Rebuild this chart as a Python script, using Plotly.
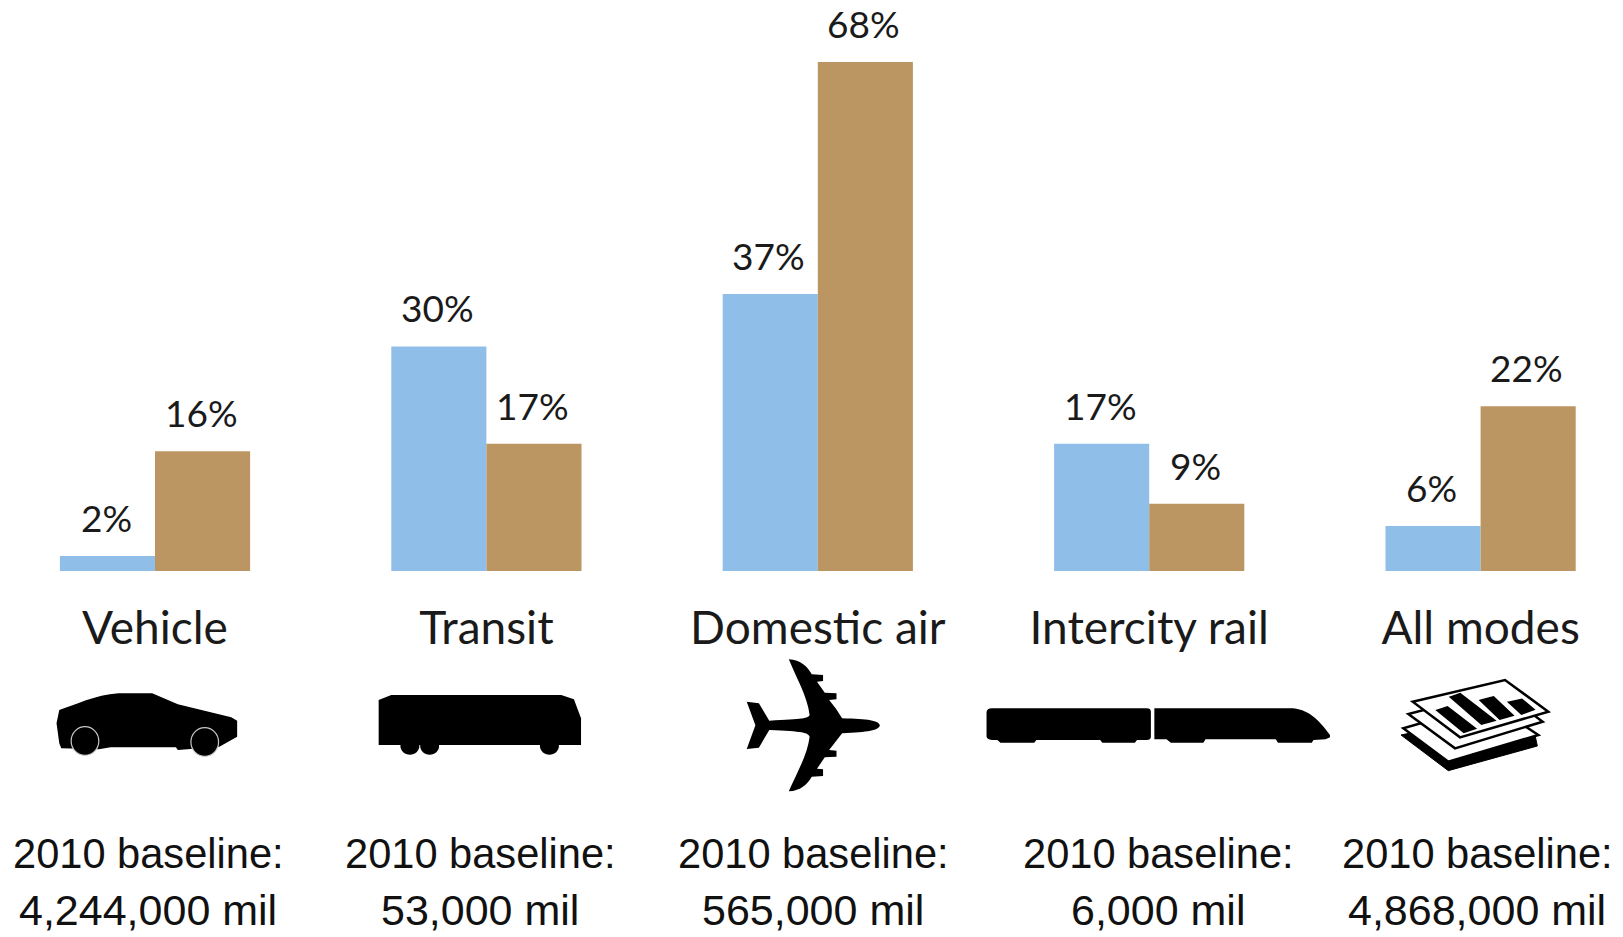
import re
import plotly.graph_objects as go

W, H = 1623, 937
BASE_Y = 571

categories = ["Vehicle", "Transit", "Domestic air", "Intercity rail", "All modes"]
series_blue = [2, 30, 37, 17, 6]
series_brown = [16, 17, 68, 9, 22]
baseline_line1 = ["2010 baseline:"] * 5
baseline_line2 = ["4,244,000 mil", "53,000 mil", "565,000 mil", "6,000 mil", "4,868,000 mil"]

BLUE = "#8FBEE8"
BROWN = "#BC9662"
BAR_FONT = "Lato"
BASE_FONT = "Liberation Sans"
baseline_px = [148, 480, 813, 1158, 1477]

fig = go.Figure()
fig.add_bar(x=categories, y=series_blue, marker_color=BLUE, marker_line_width=0, name="blue", hoverinfo="skip")
fig.add_bar(x=categories, y=series_brown, marker_color=BROWN, marker_line_width=0, name="brown", hoverinfo="skip")

ann = []
for cat, a, b in zip(categories, series_blue, series_brown):
    ann.append(dict(x=cat, y=a, xref="x", yref="y", text=f"{a}%", showarrow=False, xshift=-49,
                    yanchor="bottom", yshift=14, font=dict(family=BAR_FONT, size=37, color="#1a1a1a")))
    ann.append(dict(x=cat, y=b, xref="x", yref="y", text=f"{b}%", showarrow=False, xshift=46,
                    yanchor="bottom", yshift=14, font=dict(family=BAR_FONT, size=37, color="#1a1a1a")))
for px, l1, l2 in zip(baseline_px, baseline_line1, baseline_line2):
    for text, cy, size in ((l1, 853, 41.6), (l2, 910, 43)):
        ann.append(dict(x=px / W, y=1 - cy / H, xref="paper", yref="paper", text=text, showarrow=False,
                        xanchor="center", yanchor="middle",
                        font=dict(family=BASE_FONT, size=size, color="#111111")))


def P(d, ox, oy, sx, sy):
    """Map an icon outline written in crop pixels to paper fractions."""
    out, is_x = [], True
    for tok in re.findall(r"[MLCQZ]|-?\d+\.?\d*", d):
        if tok in "MLCQZ":
            out.append(tok)
        elif is_x:
            out.append(f"{(ox + float(tok) / sx) / W:.5f}")
            is_x = False
        else:
            out.append(f"{1 - (oy + float(tok) / sy) / H:.5f}")
            is_x = True
    return " ".join(out)


def circle(cx, cy, rx, ry):
    k = 0.5523
    return (f"M {cx-rx} {cy} C {cx-rx} {cy-k*ry} {cx-k*rx} {cy-ry} {cx} {cy-ry} "
            f"C {cx+k*rx} {cy-ry} {cx+rx} {cy-k*ry} {cx+rx} {cy} "
            f"C {cx+rx} {cy+k*ry} {cx+k*rx} {cy+ry} {cx} {cy+ry} "
            f"C {cx-k*rx} {cy+ry} {cx-rx} {cy+k*ry} {cx-rx} {cy} Z")


shapes = []
def icon(d, ox, oy, sx, sy, fill="black", line=None, lw=0):
    shapes.append(dict(type="path", xref="paper", yref="paper", path=P(d, ox, oy, sx, sy),
                       fillcolor=fill, line=dict(color=line or fill, width=lw), layer="above"))

# car and bus (crop 1)
c1 = (0, 640, 2.53, 3)
icon("M 143 250 L 150 210 C 190 195 240 165 300 160 L 385 160 L 450 193 L 585 232 L 600 242 L 600 290 "
     "L 555 320 L 450 330 L 445 322 L 280 322 L 250 328 L 155 325 L 150 310 Z", *c1)
icon(circle(215, 303, 35, 43), *c1, line="#c8c8c8", lw=1.2)
icon(circle(518, 306, 35, 43), *c1, line="#c8c8c8", lw=1.2)
icon("M 958 180 L 990 165 L 1420 165 L 1452 178 L 1470 235 L 1470 315 L 958 315 Z", *c1)
for cx in (1037, 1087, 1390):
    icon(circle(cx, 318, 24, 26), *c1)

# plane and train (crop 2)
c2 = (660, 640, 2.306, 3)
icon("M 507 256 C 505 242 480 237 420 235 L 405 205 L 390 180 L 407 178 L 407 160 L 380 158 L 362 125 "
     "L 376 123 L 376 105 L 350 103 C 340 80 325 60 297 58 C 315 115 340 170 345 225 C 342 235 330 237 252 242 "
     "L 228 190 L 200 185 L 220 256 L 200 327 L 228 323 L 252 270 C 330 274 342 278 345 290 C 340 345 315 400 297 454 "
     "C 325 452 340 432 350 410 L 376 408 L 376 388 L 362 386 L 380 352 L 407 350 L 407 332 L 390 330 L 420 280 "
     "C 480 276 505 272 507 256 Z", *c2)
icon("M 753 215 Q 755 205 765 205 L 1122 205 Q 1132 205 1132 215 L 1132 290 Q 1132 300 1122 300 L 1100 300 "
     "L 1095 308 L 1020 308 L 1015 300 L 868 300 L 863 308 L 785 308 L 778 300 L 765 300 Q 755 298 753 290 Z", *c2)
icon("M 1140 205 L 1460 205 C 1500 210 1525 250 1545 285 L 1545 292 L 1535 298 L 1507 300 L 1503 308 L 1425 308 "
     "L 1420 298 L 1258 298 L 1253 308 L 1178 308 L 1168 298 L 1140 298 Z", *c2)

# stacked pages (crop 3)
c3 = (1340, 660, 3, 3)
icon("M 183 225 L 325 332 L 592 258 L 585 225 L 300 200 Z", *c3, line="black", lw=1)
icon("M 190 205 L 325 305 L 595 225 L 450 130 Z", *c3, fill="white", line="black", lw=2.5)
icon("M 205 162 L 345 265 L 608 185 L 480 90 Z", *c3, fill="white", line="black", lw=2.5)
icon("M 218 125 L 495 60 L 625 155 L 360 232 Z", *c3, fill="white", line="black", lw=2.5)
icon("M 295 152 L 322 143 L 402 205 L 372 215 Z", *c3, line="black", lw=3)
icon("M 335 112 L 360 103 L 460 180 L 425 190 Z", *c3, line="black", lw=3)
icon("M 425 122 L 460 113 L 515 165 L 480 175 Z", *c3, line="black", lw=3)
icon("M 510 128 L 545 120 L 578 148 L 545 160 Z", *c3, line="black", lw=3)

fig.update_layout(
    width=W, height=H, autosize=False, showlegend=False, hovermode=False,
    margin=dict(l=0, r=0, t=0, b=0), paper_bgcolor="white", plot_bgcolor="white",
    barmode="group", bargap=0.426, bargroupgap=0,
    xaxis=dict(type="category", categoryorder="array", categoryarray=categories,
               range=[-155 / 331.4, (W - 155) / 331.4], showgrid=False, zeroline=False, showline=False,
               ticks="outside", ticklen=17, tickcolor="rgba(0,0,0,0)", tickwidth=0,
               tickfont=dict(family=BAR_FONT, size=46, color="#1a1a1a")),
    yaxis=dict(domain=[1 - BASE_Y / H, 1], range=[0, BASE_Y / 7.485], visible=False),
    annotations=ann, shapes=shapes,
)
fig.write_html("out.html", config={"displayModeBar": False},
               post_script="document.body.style.margin='0';document.body.style.overflow='hidden';")
